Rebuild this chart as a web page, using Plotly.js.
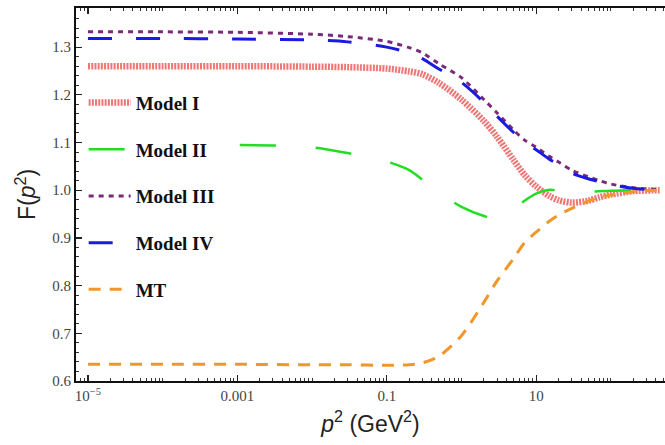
<!DOCTYPE html>
<html>
<head>
<meta charset="utf-8">
<script src="https://cdn.plot.ly/plotly-3.0.1.min.js"></script>
<style>html,body{margin:0;padding:0;background:#fff;}#chart{width:665px;height:445px;}</style>
</head>
<body>
<div id="chart"></div>
<script>
// p^2 sample points (GeV^2)
var p2 = [1e-5, 1e-4, 1e-3, 0.01, 0.03, 0.1, 0.2, 0.3, 0.5, 1, 2, 3, 5, 7, 10, 15, 20, 30, 50, 70, 100, 200, 450];

var modelI   = [1.260, 1.260, 1.260, 1.259, 1.258, 1.255, 1.249, 1.243, 1.225, 1.190, 1.145, 1.112, 1.063, 1.032, 1.008, 0.988, 0.979, 0.974, 0.978, 0.985, 0.991, 0.998, 1.000];
var modelII  = [1.095, 1.095, 1.095, 1.090, 1.078, 1.060, 1.042, 1.022, 0.995, 0.965, 0.946, 0.940, 0.958, 0.978, 0.993, 1.001, 0.999, 0.997, 0.997, 0.998, 0.999, 1.000, 1.000];
var modelIII = [1.332, 1.332, 1.331, 1.327, 1.322, 1.312, 1.299, 1.288, 1.265, 1.236, 1.190, 1.162, 1.126, 1.105, 1.090, 1.071, 1.059, 1.042, 1.028, 1.020, 1.013, 1.005, 1.001];
var modelIV  = [1.318, 1.318, 1.317, 1.315, 1.311, 1.300, 1.288, 1.276, 1.254, 1.226, 1.184, 1.155, 1.121, 1.101, 1.085, 1.065, 1.054, 1.036, 1.024, 1.018, 1.012, 1.004, 1.000];
var modelMT  = [0.635, 0.635, 0.635, 0.634, 0.634, 0.633, 0.634, 0.638, 0.652, 0.695, 0.765, 0.810, 0.857, 0.890, 0.912, 0.935, 0.948, 0.962, 0.977, 0.985, 0.990, 0.997, 1.000];

var seriesNames = ["Model I", "Model II", "Model III", "Model IV", "MT"];

var xTickVals = [1e-5, 1e-3, 0.1, 10];
var xTickText = ["10<sup>\u22125</sup>", "0.001", "0.1", "10"];
var yTickVals = [0.6, 0.7, 0.8, 0.9, 1.0, 1.1, 1.2, 1.3];
var yTickText = ["0.6", "0.7", "0.8", "0.9", "1.0", "1.1", "1.2", "1.3"];

var xMinor = [];
for (var k = -6; k <= 3; k++) {
  for (var m = 1; m <= 9; m++) {
    var v = m * Math.pow(10, k);
    var isMajor = xTickVals.some(function (t) { return Math.abs(t - v) / t < 1e-9; });
    if (!isMajor) xMinor.push(v);
  }
}

var styles = [
  {color: "#ef7676", width: 6.5, dash: "2px,1.2px"},
  {color: "#22dd22", width: 2.5, dash: "36px,40px"},
  {color: "#7a2a78", width: 3, dash: "5px,5px"},
  {color: "#1a1ae0", width: 3, dash: "24px,24px"},
  {color: "#f0962a", width: 3, dash: "12px,9px"}
];
var ys = [modelI, modelII, modelIII, modelIV, modelMT];

var traces = ys.map(function (y, i) {
  return {
    x: p2, y: y, type: "scatter", mode: "lines",
    name: seriesNames[i], legendgroup: "g" + i,
    line: {color: styles[i].color, width: styles[i].width, dash: styles[i].dash, shape: "spline", smoothing: 0.8}
  };
});

var layout = {
  width: 665, height: 445,
  margin: {l: 76, r: 0, t: 8, b: 64},
  paper_bgcolor: "#fff", plot_bgcolor: "#fff",
  showlegend: true,
  legend: {
    x: 0.013, y: 0.797, xanchor: "left", yanchor: "top",
    bgcolor: "#fff", borderwidth: 0,
    traceorder: "grouped", tracegroupgap: 19,
    itemwidth: 42,
    font: {family: "Liberation Serif, serif", size: 19, color: "#111", weight: "bold"}
  },
  xaxis: {
    type: "log", range: [-5.16, 2.725],
    tickmode: "array", tickvals: xTickVals, ticktext: xTickText,
    ticks: "inside", ticklen: 6, tickwidth: 1.2, tickcolor: "#222",
    showline: true, linecolor: "#111", linewidth: 2, mirror: "ticks",
    showgrid: false, zeroline: false,
    tickfont: {family: "Liberation Serif, serif", size: 15, color: "#444"},
    minor: {tickmode: "array", tickvals: xMinor, ticks: "inside", ticklen: 3, tickwidth: 1, tickcolor: "#333", showgrid: false},
    title: {text: "<i>p</i><sup>2</sup> (GeV<sup>2</sup>)", font: {family: "Liberation Sans, Arial, sans-serif", size: 23, color: "#222"}, standoff: 13}
  },
  yaxis: {
    range: [0.6, 1.382],
    tickmode: "array", tickvals: yTickVals, ticktext: yTickText,
    ticks: "inside", ticklen: 6, tickwidth: 1.2, tickcolor: "#222",
    showline: true, linecolor: "#111", linewidth: 2,
    showgrid: false, zeroline: false,
    tickfont: {family: "Liberation Serif, serif", size: 15, color: "#444"},
    minor: {dtick: 0.02, tick0: 0.6, ticks: "inside", ticklen: 3, tickwidth: 1, tickcolor: "#333", showgrid: false},
    title: {text: "F(<i>p</i><sup>2</sup>)", font: {family: "Liberation Sans, Arial, sans-serif", size: 23, color: "#222"}, standoff: 10}
  }
};

Plotly.newPlot("chart", traces, layout, {displayModeBar: false, staticPlot: true});
</script>
</body>
</html>
